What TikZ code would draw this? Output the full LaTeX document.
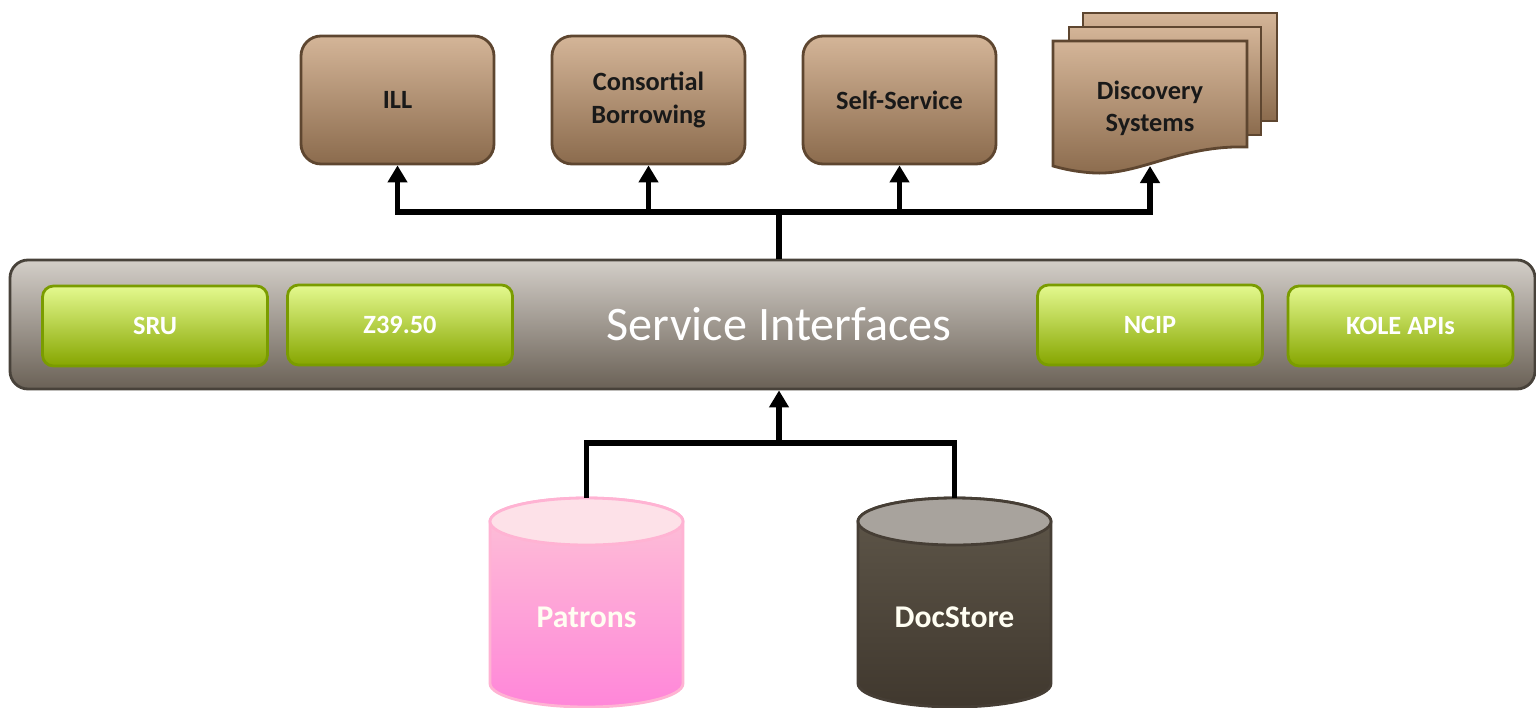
\documentclass[tikz,border=0pt]{standalone}
\usepackage{fontspec}
\setmainfont{Carlito}
\usetikzlibrary{arrows.meta}

\definecolor{brownTop}{HTML}{D4B598}
\definecolor{brownBot}{HTML}{8B6B4D}
\definecolor{brownLine}{HTML}{5E4630}
\definecolor{greenTop}{HTML}{E4F98F}
\definecolor{greenMid}{HTML}{D7FB58}
\definecolor{greenBot}{HTML}{86A600}
\definecolor{greenLine}{HTML}{7A9C00}
\definecolor{barTop}{HTML}{D3CEC8}
\definecolor{barMid}{HTML}{B3AAA0}
\definecolor{barBot}{HTML}{6A6156}
\definecolor{barLine}{HTML}{48423A}
\definecolor{pinkTop}{HTML}{FDE1E8}
\definecolor{pinkBodyTop}{HTML}{FDC3D6}
\definecolor{pinkBodyBot}{HTML}{FF86D9}
\definecolor{pinkLine}{HTML}{FFB3D3}
\definecolor{storeTop}{HTML}{A8A39D}
\definecolor{storeBodyTop}{HTML}{5F574A}
\definecolor{storeBodyBot}{HTML}{40382E}
\definecolor{storeLine}{HTML}{463E35}

\tikzset{
	appbox/.style={draw=brownLine, line width=0.8pt, rounded corners=0.2cm,
		top color=brownTop, middle color=brownTop, bottom color=brownBot,
		minimum width=1.93cm, minimum height=1.28cm, inner sep=0pt, align=center,
		font=\fontsize{7.5}{9.2}\selectfont\bfseries, text=black!90},
	docpage/.style={draw=brownLine, line width=0.8pt,
		top color=brownTop, middle color=brownTop, bottom color=brownBot},
	protobox/.style={draw=greenLine, line width=0.8pt, rounded corners=0.11cm,
		top color=greenTop, middle color=greenMid, bottom color=greenBot,
		minimum width=2.25cm, minimum height=0.80cm, inner sep=0pt,
		font=\fontsize{7.5}{9}\selectfont\bfseries, text=white},
	svcbar/.style={draw=barLine, line width=0.8pt, rounded corners=0.18cm,
		top color=barTop, middle color=barMid, bottom color=barBot,
		minimum width=15.25cm, minimum height=1.29cm, inner sep=0pt,
		font=\fontsize{13.7}{16}\selectfont, text=white},
	dblabel/.style={font=\fontsize{9}{11}\selectfont\bfseries, text=white!95!yellow},
	conn/.style={line width=1.6pt},
	arr/.style={conn, -{Triangle[width=0.19cm,length=0.17cm]}}
}

\begin{document}
\begin{tikzpicture}
	\useasboundingbox (0,0) rectangle (15.36,-7.07);
	%%  Applications  %%%%%%%%
	\node[appbox] (ill) at (3.975,-1.00) {ILL};
	\node[appbox] (cons) at (6.485,-1.00) {Consortial\\Borrowing};
	\node[appbox] (self) at (8.995,-1.00) {Self-Service};
	\draw[docpage] (10.83,-0.13) rectangle (12.77,-1.21);
	\draw[docpage] (10.69,-0.27) rectangle (12.61,-1.35);
	\draw[docpage] (10.53,-0.41) -- (12.47,-0.41) -- (12.47,-1.47)
		.. controls (11.8,-1.45) and (11.4,-1.75) .. (10.95,-1.73)
		.. controls (10.75,-1.72) and (10.6,-1.68) .. (10.53,-1.66) -- cycle;
	\node[align=center, font=\fontsize{7.5}{9.2}\selectfont\bfseries, text=black!90] (disc) at (11.50,-1.08) {Discovery\\Systems};
	\coordinate (discIn) at (11.50,-1.66);
	%%  Service bar  %%%%%%%%
	\node[svcbar] (svc) at (7.725,-3.245) {\hspace*{0.13cm}Service Interfaces};
	\node[protobox] (sru) at (1.55,-3.26) {SRU};
	\node[protobox] (z3950) at (4.00,-3.25) {Z39.50};
	\node[protobox] (ncip) at (11.50,-3.25) {NCIP};
	\node[protobox] (kole) at (14.005,-3.26) {KOLE APIs};
	%%  Stores  %%%%%%%%
	\draw[draw=pinkLine, line width=0.8pt, top color=pinkBodyTop, bottom color=pinkBodyBot]
		(4.90,-5.215) -- (4.90,-6.835) arc[start angle=180, end angle=360, x radius=0.965, y radius=0.235]
		-- (6.83,-5.215) arc[start angle=0, end angle=180, x radius=0.965, y radius=0.235] -- cycle;
	\draw[draw=pinkLine, line width=0.8pt, fill=pinkTop] (5.865,-5.215) ellipse[x radius=0.965, y radius=0.235];
	\node[dblabel] (pat) at (5.865,-6.17) {Patrons};
	\coordinate (patTop) at (5.865,-4.98);
	\draw[draw=storeLine, line width=0.8pt, top color=storeBodyTop, bottom color=storeBodyBot]
		(8.58,-5.215) -- (8.58,-6.835) arc[start angle=180, end angle=360, x radius=0.965, y radius=0.235]
		-- (10.51,-5.215) arc[start angle=0, end angle=180, x radius=0.965, y radius=0.235] -- cycle;
	\draw[draw=storeLine, line width=0.8pt, fill=storeTop] (9.545,-5.215) ellipse[x radius=0.965, y radius=0.235];
	\node[dblabel] (doc) at (9.545,-6.17) {DocStore};
	\coordinate (docTop) at (9.545,-4.98);
	%%  Connectors  %%%%%%%%
	\coordinate (hub) at (7.79,-2.12);
	\coordinate (hubB) at (7.79,-4.43);
	\draw[conn] (hub |- svc.north) -- (hub);
	\draw[arr] (hub) -| (ill.south);
	\draw[arr] (hub) -| (cons.south);
	\draw[arr] (hub) -| (self.south);
	\draw[arr] (hub) -| (discIn);
	\draw[conn] (patTop) |- (hubB) -| (docTop);
	\draw[arr] (hubB) -- (hubB |- svc.south);
	%%%%%%%%%%%%%%%
\end{tikzpicture}
\end{document}
